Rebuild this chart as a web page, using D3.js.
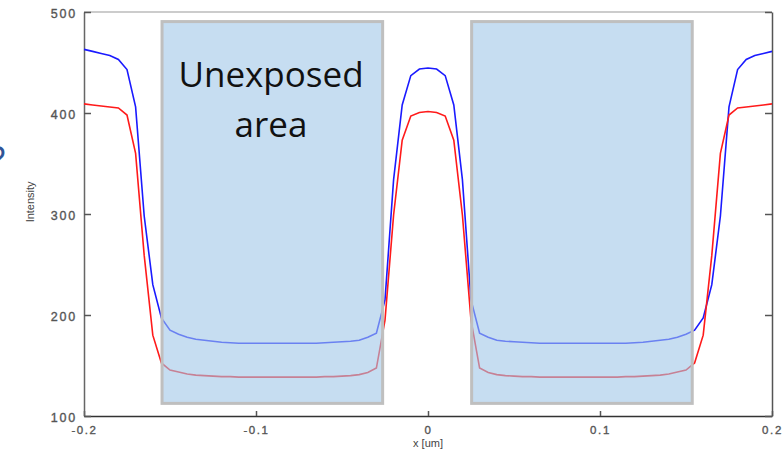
<!DOCTYPE html>
<html>
<head>
<meta charset="utf-8">
<script src="https://cdn.jsdelivr.net/npm/d3@7"></script>
<style>
  body { margin: 0; background: #fff; }
  svg { display: block; }
  .tick text { font-family: "Liberation Sans", Arial, sans-serif; fill: #555; stroke: #555; stroke-width: 0.35px; }
</style>
</head>
<body>
<div id="chart"></div>
<script>
// x positions in um, one sample every 0.005 um
const xValues = d3.range(81).map(i => +(-0.2 + i * 0.005).toFixed(3));

const blueIntensity = [
    463, 461, 459, 457, 453, 443, 406, 298, 230, 197,
    185, 181, 178, 176, 175, 174, 173, 172.5, 172, 172,
    172, 172, 172, 172, 172, 172, 172, 172, 172.5, 173,
    173.5, 174, 175, 178, 182, 215, 334, 408, 437, 443.5,
    444.5,
    443.5, 437, 408, 334, 215, 182, 178, 175, 174, 173.5,
    173, 172.5, 172, 172, 172, 172, 172, 172, 172, 172,
    172, 172, 172, 172.5, 173, 174, 175, 176, 178, 181,
    185, 197, 230, 298, 406, 443, 453, 457, 459, 461,
    463
];

const redIntensity = [
    409, 408, 407, 406, 405, 398, 360, 259, 180, 152.5,
    145.5, 143.5, 141.5, 140.5, 140, 139.5, 139, 139, 138.5, 138.5,
    138.5, 138.5, 138.5, 138.5, 138.5, 138.5, 138.5, 138.5, 139, 139,
    139.5, 140, 141, 143, 147.5, 195, 299, 373, 397, 400.5,
    401.5,
    400.5, 397, 373, 299, 195, 147.5, 143, 141, 140, 139.5,
    139, 139, 138.5, 138.5, 138.5, 138.5, 138.5, 138.5, 138.5, 138.5,
    138.5, 138.5, 139, 139, 139.5, 140, 140.5, 141.5, 143.5, 145.5,
    152.5, 180, 259, 360, 398, 405, 406, 407, 408, 409
];

// unexposed regions: [x0, x1] in um, intensity span
const regionsX = [[-0.1555, -0.0255], [0.0245, 0.1545]];
const regionsY = [111, 492];

const xTicks = [-0.2, -0.1, 0, 0.1, 0.2];
const yTicks = [100, 200, 300, 400, 500];

const width = 783, height = 450;
const margin = { left: 84, right: 11, top: 12, bottom: 34 };

const svg = d3.select('#chart').append('svg')
    .attr('width', width)
    .attr('height', height);

const x = d3.scaleLinear().domain([-0.2, 0.2]).range([margin.left, width - margin.right]);
const y = d3.scaleLinear().domain([100, 500]).range([height - margin.bottom, margin.top]);

// frame top line
svg.append('line')
    .attr('x1', x(-0.2)).attr('x2', x(0.2))
    .attr('y1', y(500)).attr('y2', y(500))
    .attr('stroke', '#999').attr('stroke-width', 1.2);

// axes, plain hyphen for negatives
const locale = d3.formatLocale({ decimal: '.', thousands: ',', grouping: [3], currency: ['', ''], minus: '-' });
const fmtX = d => d === 0 ? '0' : locale.format('.1f')(d);

svg.append('g')
    .attr('transform', `translate(0,${y(100)})`)
    .call(d3.axisBottom(x).tickValues(xTicks).tickFormat(fmtX).tickSizeInner(-5).tickSizeOuter(0).tickPadding(10))
    .call(g => g.select('.domain').attr('stroke', '#333').attr('stroke-width', 1.5))
    .call(g => g.selectAll('.tick line').attr('stroke', '#555').attr('stroke-width', 1.5))
    .call(g => g.selectAll('.tick text').attr('font-size', 11.5).attr('letter-spacing', 1.6));

svg.append('g')
    .attr('transform', `translate(${x(-0.2)},0)`)
    .call(d3.axisLeft(y).tickValues(yTicks).tickSizeInner(-7).tickSizeOuter(0).tickPadding(7))
    .call(g => g.select('.domain').attr('stroke', '#666').attr('stroke-width', 1.5))
    .call(g => g.selectAll('.tick line').attr('stroke', '#555').attr('stroke-width', 1.5))
    .call(g => g.selectAll('.tick text').attr('font-size', 12.5).attr('letter-spacing', 1.8).attr('dy', '0.42em'));

svg.append('g')
    .attr('transform', `translate(${x(0.2)},0)`)
    .call(d3.axisRight(y).tickValues(yTicks).tickFormat('').tickSizeInner(-7).tickSizeOuter(0))
    .call(g => g.select('.domain').attr('stroke', '#555').attr('stroke-width', 1.5))
    .call(g => g.selectAll('.tick line').attr('stroke', '#555').attr('stroke-width', 1.5));

// axis titles
svg.append('text')
    .attr('x', x(0)).attr('y', 447)
    .attr('text-anchor', 'middle')
    .attr('font-family', '"Liberation Sans", Arial, sans-serif')
    .attr('font-size', 11).attr('fill', '#444')
    .text('x [um]');

svg.append('text')
    .attr('transform', `translate(34,${y(312)}) rotate(-90)`)
    .attr('text-anchor', 'middle')
    .attr('font-family', '"Liberation Sans Narrow", "Liberation Sans", Arial, sans-serif')
    .attr('font-size', 11).attr('fill', '#444')
    .text('Intensity');

// curves
const line = d3.line().x((d, i) => x(xValues[i])).y(d => y(d));

svg.append('path').datum(blueIntensity)
    .attr('d', line).attr('fill', 'none')
    .attr('stroke', '#1a1aff').attr('stroke-width', 1.6);

svg.append('path').datum(redIntensity)
    .attr('d', line).attr('fill', 'none')
    .attr('stroke', '#ff1a1a').attr('stroke-width', 1.6);

// translucent unexposed boxes on top of the curves
svg.selectAll('.region').data(regionsX).join('rect')
    .attr('class', 'region')
    .attr('x', d => x(d[0]) + 1.5)
    .attr('y', y(regionsY[1]) + 1.5)
    .attr('width', d => x(d[1]) - x(d[0]) - 3)
    .attr('height', y(regionsY[0]) - y(regionsY[1]) - 3)
    .attr('fill', 'rgb(160,198,232)').attr('fill-opacity', 0.6)
    .attr('stroke', '#bfbfbf').attr('stroke-width', 3);

const label = svg.append('text')
    .attr('text-anchor', 'middle')
    .attr('font-family', '"Open Sans", sans-serif')
    .attr('font-size', 35).attr('fill', '#111');
label.append('tspan').attr('x', 271).attr('y', 87).text('Unexposed');
label.append('tspan').attr('x', 271).attr('y', 137).text('area');

// glyph cut by the left edge of the picture
svg.append('text')
    .attr('x', -11).attr('y', 174)
    .attr('font-family', '"Open Sans", sans-serif')
    .attr('font-size', 38).attr('fill', '#2f5597')
    .text('?');
</script>
</body>
</html>
